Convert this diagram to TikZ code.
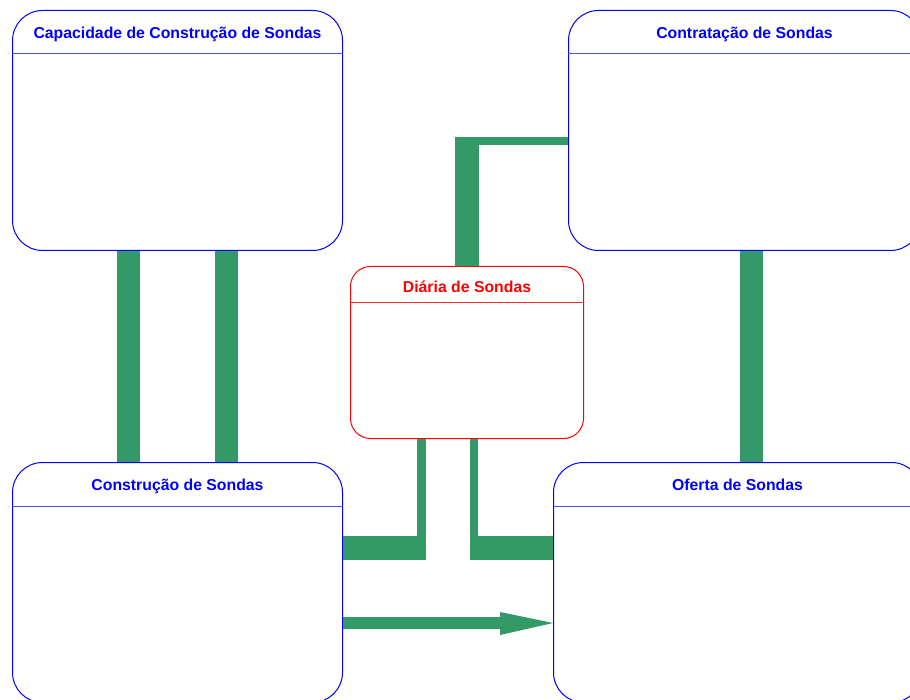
\documentclass[tikz,border=0pt]{standalone}
\usepackage{fontspec}
\setmainfont{Liberation Sans}
\begin{document}
\begin{tikzpicture}[x=1pt,y=-1pt,
  box/.style={draw=blue, line width=1pt, rounded corners=30pt, anchor=north west, inner sep=0pt},
  redbox/.style={draw=red, line width=1pt, rounded corners=20pt, anchor=north west, inner sep=0pt},
  ttl/.style={text=blue, font=\bfseries\fontsize{15.8}{18}\selectfont, inner sep=0pt, anchor=base},
  rttl/.style={text=red, font=\bfseries\fontsize{15.8}{18}\selectfont, inner sep=0pt, anchor=base},
  hline/.style={draw=blue!70, line width=1pt},
  rhline/.style={draw=red!80, line width=1pt}]
\definecolor{conn}{RGB}{51,153,102}
\useasboundingbox (0,0) rectangle (910,700);
\clip (0,0) rectangle (910,700);
\fill[white] (0,0) rectangle (910,700);
% boxes
\node[box, minimum width=352pt, minimum height=240pt] (cont) at (568,10) {};
\node[box, minimum width=330pt, minimum height=240pt] (cap) at (12,10) {};
\node[redbox, minimum width=233pt, minimum height=172pt] (dia) at (350,266) {};
\node[box, minimum width=330pt, minimum height=240pt] (constr) at (12,462) {};
\node[box, minimum width=368pt, minimum height=240pt] (ofe) at (553,462) {};
% header lines
\draw[hline] (cap.west |- 0,54) -- (cap.east |- 0,54);
\draw[hline] (cont.west |- 0,54) -- (cont.east |- 0,54);
\draw[rhline] (dia.west |- 0,303) -- (dia.east |- 0,303);
\draw[hline] (constr.west |- 0,506) -- (constr.east |- 0,506);
\draw[hline] (ofe.west |- 0,506) -- (ofe.east |- 0,506);
% titles
\node[ttl] (tcap) at (cap.north |- 0,38.5) {Capacidade de Construção de Sondas};
\node[ttl] (tcont) at (cont.north |- 0,38.5) {Contratação de Sondas};
\node[rttl] (tdia) at (dia.north |- 0,293) {Diária de Sondas};
\node[ttl] (tconstr) at (constr.north |- 0,490.5) {Construção de Sondas};
\node[ttl] (tofe) at (ofe.north |- 0,490.5) {Oferta de Sondas};
% connectors
\draw[conn, line width=23pt] (cap.south -| 128.5,0) -- (constr.north -| 128.5,0);
\draw[conn, line width=23pt] (cap.south -| 226.5,0) -- (constr.north -| 226.5,0);
\draw[conn, line width=23pt] (cont.south -| 751.5,0) -- (ofe.north -| 751.5,0);
% Diaria -> Contratacao
\coordinate (dc) at (467,137);
\draw[conn, line width=24pt] (dia.north -| dc) -- (dc);
\draw[conn, line width=8pt] (455,141) -- (cont.west |- 0,141);
% Diaria -> Construcao
\coordinate (dk) at (421.5,560);
\draw[conn, line width=9pt] (dia.south -| dk) -- (dk);
\draw[conn, line width=24pt] (426,548) -- (constr.east |- 0,548);
% Diaria -> Oferta
\coordinate (dof) at (474,560);
\draw[conn, line width=8pt] (dia.south -| dof) -- (dof);
\draw[conn, line width=24pt] (470,548) -- (ofe.west |- 0,548);
% arrow Construcao -> Oferta
\coordinate (ah) at (500,623);
\draw[conn, line width=12pt] (constr.east |- ah) -- (ah);
\fill[conn] (500,612) -- (ofe.west |- 0,623) -- (500,635) -- cycle;
\end{tikzpicture}
\end{document}
